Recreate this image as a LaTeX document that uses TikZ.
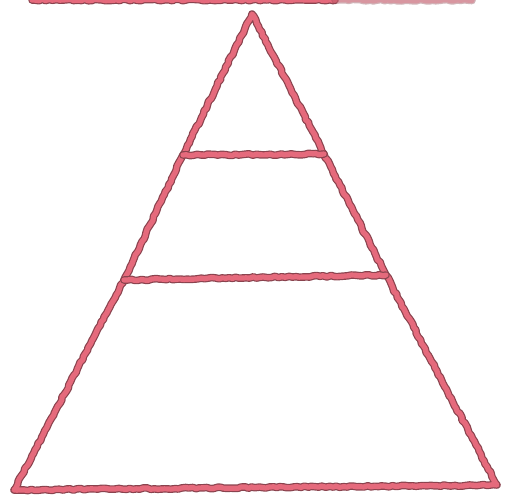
\documentclass[tikz,border=0pt]{standalone}
\usetikzlibrary{decorations.pathmorphing}
\definecolor{inkpink}{HTML}{E56A7C}
\definecolor{inkedge}{HTML}{8A434E}
\begin{document}
\begin{tikzpicture}[x=1pt,y=-1pt,
  pen/.style={draw=inkedge, double=inkpink, line width=1.2pt, double distance=5.2pt,
    line join=round, line cap=round, decorate,
    decoration={random steps, segment length=3.5pt, amplitude=0.8pt}}]
\useasboundingbox (0,0) rectangle (509,501);
\clip (0,0) rectangle (509,501);
\coordinate (apex) at (252,14);
\coordinate (L1) at (183,155);
\coordinate (R1) at (324,154);
\coordinate (L2) at (124,280);
\coordinate (R2) at (386,275);
\coordinate (BL) at (14,490);
\coordinate (BR) at (497,485);
\coordinate (T1) at (32,0);
\coordinate (T2) at (335,0);
\coordinate (T3) at (472,0.5);
\draw[pen] (BL) -- (L2) -- (L1) -- (apex) -- (R1) -- (R2) -- (BR) -- cycle;
\draw[pen] (L1) -- (R1);
\draw[pen] (L2) -- (R2);
\draw[pen] (T1) -- (T2);
\draw[pen, opacity=0.4] (T2) -- (T3);
\end{tikzpicture}
\end{document}
